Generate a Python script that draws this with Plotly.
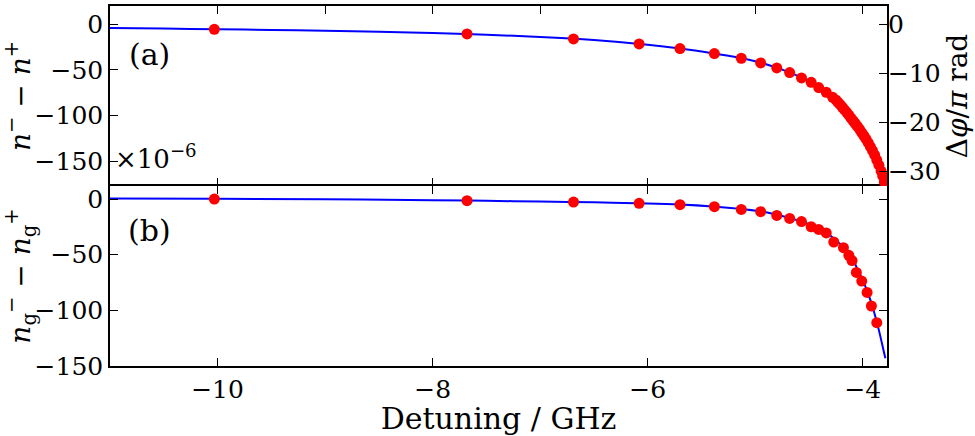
import plotly.graph_objects as go

# ---------------- data ----------------
# panel (a): measured points
a_x = [-10.03, -7.68, -6.69, -6.08, -5.70, -5.38, -5.13, -4.95, -4.80, -4.68,
       -4.57, -4.48, -4.41, -4.34, -4.28, -4.25, -4.23, -4.21, -4.19, -4.17,
       -4.15, -4.13, -4.11, -4.09, -4.07, -4.05, -4.03, -4.01, -3.99, -3.97,
       -3.95, -3.93, -3.91, -3.89, -3.87, -3.85, -3.83, -3.815, -3.80]
a_y = [-5.5, -10.6, -16.1, -21.5, -26.6, -32.1, -37.2, -42.3, -47.8, -52.9,
       -58.7, -63.5, -69.3, -74.4, -79.9, -82.8, -85.5, -88.0, -90.8, -93.6,
       -96.4, -99.4, -102.6, -105.6, -108.6, -111.8, -115.0, -118.5, -122.0, -125.6,
       -129.6, -133.8, -138.2, -143.0, -148.6, -154.2, -160.6, -166.0, -172.6]
# panel (a): theory curve
a_line_x = [-11.0, -10.5, -10.0, -9.5, -9.0, -8.5, -8.0, -7.5, -7.0, -6.5,
            -6.0, -5.7, -5.4, -5.1, -4.9, -4.7, -4.5, -4.4, -4.3, -4.2,
            -4.1, -4.0, -3.9, -3.85, -3.8, -3.79]
a_line_y = [-4.0, -4.7, -5.5, -6.2, -7.2, -8.3, -9.6, -11.5, -13.8, -17.2,
            -22.4, -26.6, -31.8, -37.8, -43.8, -51.8, -62.3, -69.8, -77.8, -89.4,
            -104.1, -120.2, -140.6, -154.2, -172.6, -177.0]

# panel (b): measured points
b_x = [-10.03, -7.68, -6.69, -6.08, -5.70, -5.38, -5.13, -4.95, -4.80, -4.68,
       -4.57, -4.48, -4.41, -4.34, -4.27, -4.18, -4.13, -4.10, -4.06, -4.01,
       -3.96, -3.92, -3.87]
b_y = [0.0, -1.5, -2.7, -3.9, -5.1, -6.9, -9.3, -11.4, -14.7, -17.4,
       -20.3, -24.9, -27.3, -30.5, -38.6, -43.7, -50.6, -55.3, -65.9, -73.7,
       -83.9, -96.1, -111.1]
# panel (b): theory curve
b_line_x = [-11.0, -10.0, -9.0, -8.0, -7.5, -7.0, -6.5, -6.0, -5.7, -5.4,
            -5.1, -4.9, -4.7, -4.5, -4.4, -4.3, -4.2, -4.1, -4.05, -4.0,
            -3.95, -3.9, -3.85, -3.8, -3.79]
b_line_y = [0.5, 0.2, -0.3, -1.0, -1.6, -2.3, -3.0, -4.0, -5.0, -6.7,
            -9.2, -11.8, -16.5, -22.5, -26.8, -33.0, -41.5, -53.0, -63.0, -73.0,
            -85.0, -100.0, -118.0, -139.0, -143.0]

x_ticks = [-10, -8, -6, -4]
x_tick_text = ["−10", "−8", "−6", "−4"]
x_minor_ticks = [-10, -9, -8, -7, -6, -5, -4]
left_ticks = [0, -50, -100, -150]
left_tick_text = ["0", "−50", "−100", "−150"]
right_ticks = [0, -10, -20, -30]
right_tick_text = ["0", "−10", "−20", "−30"]

# ---------------- styling ----------------
FONT = "DejaVu Serif, Liberation Serif, Times New Roman, serif"
RED = "#ff0000"
BLUE = "#0000ff"
X_RANGE = [-11.0, -3.775]
A_RANGE = [-177.0, 20.0]
K = 5.36
A_RIGHT_RANGE = [A_RANGE[0] / K, A_RANGE[1] / K]
B_RANGE = [-150.0, 11.7]

fig = go.Figure()

fig.add_trace(go.Scatter(x=a_line_x, y=a_line_y, mode="lines",
                         line=dict(color=BLUE, width=2, shape="spline"),
                         xaxis="x2", yaxis="y2", showlegend=False))
fig.add_trace(go.Scatter(x=a_x, y=a_y, mode="markers",
                         marker=dict(color=RED, size=11),
                         xaxis="x2", yaxis="y2", showlegend=False))
fig.add_trace(go.Scatter(x=b_line_x, y=b_line_y, mode="lines",
                         line=dict(color=BLUE, width=2, shape="spline"),
                         xaxis="x", yaxis="y", showlegend=False))
fig.add_trace(go.Scatter(x=b_x, y=b_y, mode="markers",
                         marker=dict(color=RED, size=11),
                         xaxis="x", yaxis="y", showlegend=False))
# empty trace so the overlaid top/right axes get drawn
fig.add_trace(go.Scatter(x=[None], y=[None], mode="markers",
                         xaxis="x3", yaxis="y3", showlegend=False,
                         hoverinfo="skip"))

tick_font = dict(family=FONT, size=25, color="black")
axis_common = dict(showgrid=False, zeroline=False, showline=True,
                   linecolor="black", linewidth=1.5, automargin=False,
                   ticks="inside", ticklen=8, tickwidth=1.2, tickcolor="black",
                   tickfont=tick_font)

fig.update_layout(
    width=975, height=436,
    margin=dict(l=110, r=88, t=6, b=70),
    plot_bgcolor="white", paper_bgcolor="white",
    font=dict(family=FONT, color="black"),
    xaxis=dict(axis_common, domain=[0, 1], anchor="y", range=X_RANGE,
               tickvals=x_ticks, ticktext=x_tick_text,
               mirror="ticks",
               title=dict(text="Detuning / GHz", standoff=0,
                          font=dict(family=FONT, size=30))),
    xaxis2=dict(axis_common, domain=[0, 1], anchor="y2", range=X_RANGE,
                matches="x", tickvals=x_ticks, showticklabels=False,
                showline=False),
    xaxis3=dict(axis_common, anchor="y2", overlaying="x2", side="top",
                range=X_RANGE, matches="x", tickvals=x_minor_ticks,
                showticklabels=False, showline=True),
    yaxis=dict(axis_common, domain=[0, 0.5], anchor="x", range=B_RANGE,
               tickvals=left_ticks, ticktext=left_tick_text,
               mirror="ticks",
               title=dict(text="<i>n</i><sub>g</sub><sup>−</sup> − <i>n</i><sub>g</sub><sup>+</sup>",
                          standoff=2, font=dict(family=FONT, size=28))),
    yaxis2=dict(axis_common, domain=[0.5, 1], anchor="x2", range=A_RANGE,
                tickvals=left_ticks, ticktext=left_tick_text,
                mirror=True,
                title=dict(text="<i>n</i><sup>−</sup> − <i>n</i><sup>+</sup>",
                           standoff=2, font=dict(family=FONT, size=28))),
    yaxis3=dict(axis_common, anchor="x2", overlaying="y2", side="right",
                range=A_RIGHT_RANGE, tickvals=right_ticks,
                ticktext=right_tick_text, showline=False,
                title=dict(text="Δ<i>φ</i>/<i>π</i> rad", standoff=0,
                           font=dict(family=FONT, size=28))),
    annotations=[
        dict(text="(a)", xref="x2 domain", yref="y2 domain", x=0.022, y=0.73,
             xanchor="left", yanchor="middle", showarrow=False,
             font=dict(family=FONT, size=30, color="black")),
        dict(text="(b)", xref="x domain", yref="y domain", x=0.02, y=0.755,
             xanchor="left", yanchor="middle", showarrow=False,
             font=dict(family=FONT, size=30, color="black")),
        dict(text="×10<sup>−6</sup>", xref="x2 domain", yref="y2 domain",
             x=0.004, y=0.16, xanchor="left", yanchor="middle", showarrow=False,
             font=dict(family=FONT, size=26, color="black")),
    ],
)

fig.write_html("out.html",
               config={"displayModeBar": False},
               post_script="document.body.style.margin='0';"
                           "document.body.style.overflow='hidden';")
